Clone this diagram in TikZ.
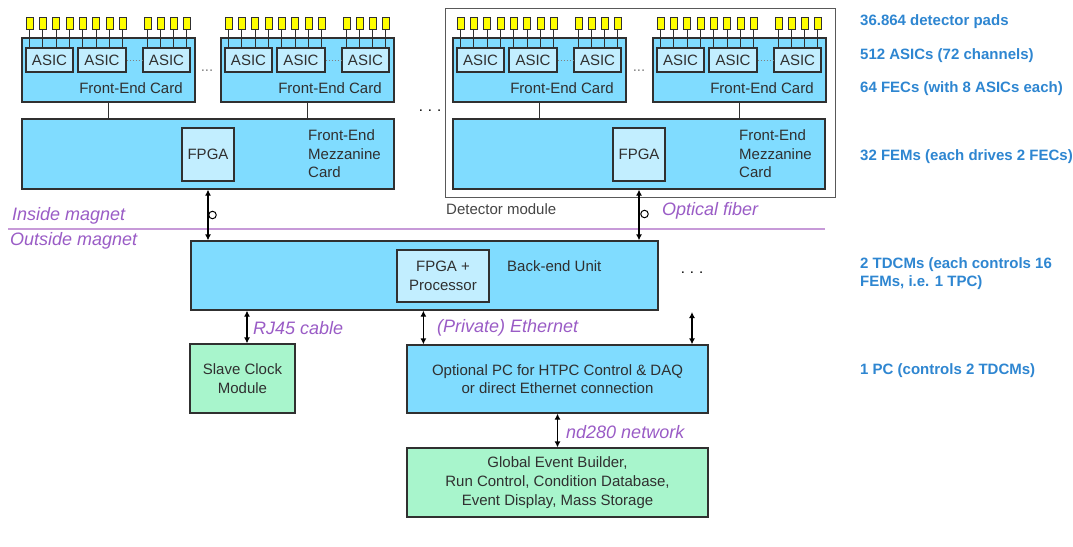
\documentclass[tikz,border=0pt]{standalone}
\usepackage{fontspec}
\setmainfont{Liberation Sans}
\usetikzlibrary{arrows.meta}

\definecolor{cardblue}{HTML}{80DCFF}
\definecolor{chipblue}{HTML}{C2EEFF}
\definecolor{mint}{HTML}{A8F5CC}
\definecolor{padyellow}{HTML}{FFFF00}
\definecolor{linkpurple}{HTML}{9A5CC6}
\definecolor{magnetline}{HTML}{C79AD8}
\definecolor{noteblue}{HTML}{2E86D1}
\definecolor{ink}{HTML}{303030}

\tikzset{
  base/.style={font=\fontsize{15}{18.5}\selectfont, text=ink},
  card/.style={draw=ink, line width=1.2pt, fill=cardblue, inner sep=0pt},
  chip/.style={draw=ink, line width=1.2pt, fill=chipblue, inner sep=0pt, base, align=center},
  greenbox/.style={card, fill=mint, base, align=center},
  bluebox/.style={card, base, align=center},
  pad/.style={draw=ink, line width=0.9pt, fill=padyellow, inner sep=0pt},
  wire/.style={draw=ink, line width=1pt},
  modframe/.style={draw=ink!80, line width=1pt, inner sep=0pt},
  biarrow/.style={draw=black, line width=1.2pt,
    {Latex[length=6pt,width=6pt]}-{Latex[length=6pt,width=6pt]}},
  ring/.style={circle, draw=black, line width=1pt, minimum size=7.5pt, inner sep=0pt},
  linklabel/.style={font=\fontsize{18}{20}\selectfont\itshape, text=linkpurple,
    inner sep=0pt, anchor=west},
  note/.style={font=\fontsize{15}{18}\selectfont\bfseries, text=noteblue,
    anchor=west, inner sep=0pt, align=left},
  lbl/.style={base, inner sep=0pt},
  ellipsis/.style={font=\fontsize{15}{18}\selectfont, inner sep=0pt},
}

% a rectangular node given by its corners: style, name, x1, y1, x2, y2, text
\newcommand\rectnode[7]{%
  \node[#1, minimum width={(#5)-(#3)}, minimum height={(#6)-(#4)}]
    (#2) at ({((#3)+(#5))/2},{((#4)+(#6))/2}) {#7};}

% One front-end card: 3 ASICs (with a gap of omitted ones) and 12 pads
\newcommand\fecunit[2]{%
  \begin{scope}[xshift=#2pt]
    \rectnode{card}{#1}{22}{38}{195}{102}{}
    \rectnode{chip}{#1a1}{26}{48}{73}{72}{ASIC}
    \rectnode{chip}{#1a2}{78}{48}{126}{72}{ASIC}
    \rectnode{chip}{#1a3}{143}{48}{190}{72}{ASIC}
    \draw[dotted, gray, line width=1pt] (#1a2.east) -- (#1a3.west);
    \node[lbl] (#1t) at (131,88) {Front-End Card};
    \foreach \px/\k [count=\i] in {26/1,39.3/1,52.7/1,66/1,79.3/2,92.7/2,106/2,119.3/2,144/3,157/3,170/3,183/3}{
      \rectnode{pad}{#1p\i}{\px}{17}{\px+7}{29}{}
      \draw[wire] (#1p\i.south) -- (#1p\i.south |- #1a\k.north);
    }
  \end{scope}}

% One front-end mezzanine card with its FPGA
\newcommand\femunit[2]{%
  \begin{scope}[xshift=#2pt]
    \rectnode{card}{#1}{22}{119}{394}{189}{}
    \rectnode{chip}{#1f}{182}{128}{234}{181}{FPGA}
    \node[lbl, anchor=west, align=left] (#1t) at (308,154) {Front-End\\Mezzanine\\Card};
  \end{scope}}

\begin{document}
\begin{tikzpicture}[x=1pt, y=-1pt]
  \useasboundingbox (0,0) rectangle (1073,546);
  \fill[white] (0,0) rectangle (1073,546);

  % detector module frame
  \rectnode{modframe}{module}{445}{8}{835}{197}{}
  \node[lbl, anchor=west, text=ink!90] (modlbl) at (446,209) {Detector module};

  % front-end cards
  \fecunit{fecA}{0}
  \fecunit{fecB}{199}
  \fecunit{fecC}{431}
  \fecunit{fecD}{631}
  \node[ellipsis, text=gray] (dotsAB) at (207,71) {...};
  \node[ellipsis, text=gray] (dotsCD) at (639,71) {...};

  % mezzanine cards
  \femunit{femA}{0}
  \femunit{femB}{431}
  \node[ellipsis] (dotsmid) at (430,111) {.\,\,.\,\,.};

  \foreach \f/\m in {fecA/femA, fecB/femA, fecC/femB, fecD/femB}
    \draw[wire] (\f.south) -- (\f.south |- \m.north);

  % magnet boundary
  \draw[magnetline, line width=1.5pt] (8,229) -- (825,229);
  \node[linklabel] (inmag) at (12,216) {Inside magnet};
  \node[linklabel] (outmag) at (10,241) {Outside magnet};

  % back-end unit
  \rectnode{card}{beu}{191}{241}{658}{310}{}
  \rectnode{chip}{proc}{397}{250}{489}{302}{FPGA +\\Processor}
  \node[lbl, anchor=west] (beut) at (507,266) {Back-end Unit};
  \node[ellipsis] (dotsbeu) at (692,273) {.\,\,.\,\,.};

  % optical links
  \draw[biarrow] (femA.south) -- (femA.south |- beu.north);
  \draw[biarrow] (femB.south) -- (femB.south |- beu.north);
  \node[ring] (ringA) at (212.5,215) {};
  \node[ring] (ringB) at (644.5,214) {};
  \node[linklabel] (fibre) at (662,211) {Optical fiber};

  % clock and PC
  \rectnode{greenbox}{slave}{190}{344}{295}{413}{Slave Clock\\Module}
  \rectnode{bluebox}{pc}{407}{345}{708}{413}{Optional PC for HTPC Control \& DAQ\\or direct Ethernet connection}
  \rectnode{greenbox, font=\fontsize{15}{19}\selectfont}{glob}{407}{448}{708}{517}%
    {Global Event Builder,\\Run Control, Condition Database,\\Event Display, Mass Storage}

  \draw[biarrow] ([xshift=4.5pt]slave.north) -- ([xshift=4.5pt]slave.north |- beu.south);
  \draw[biarrow] ([xshift=17pt]pc.north west) -- ([xshift=17pt]pc.north west |- beu.south);
  \coordinate (nextbeu) at (692,312);
  \draw[biarrow] (nextbeu) -- (nextbeu |- pc.north);
  \draw[biarrow] (pc.south) -- (glob.north);
  \node[linklabel] (rj) at (253,328) {RJ45 cable};
  \node[linklabel] (eth) at (437,328) {(Private) Ethernet};
  \node[linklabel] (nd) at (566,432) {nd280 network};

  % system counts
  \node[note] (n1) at (860,22) {36.864 detector pads};
  \node[note] (n2) at (860,56) {512 ASICs (72 channels)};
  \node[note] (n3) at (860,89) {64 FECs (with 8 ASICs each)};
  \node[note] (n4) at (860,157) {32 FEMs (each drives 2 FECs)};
  \node[note] (n5) at (860,274) {2 TDCMs (each controls 16\\FEMs, i.e. 1 TPC)};
  \node[note] (n6) at (860,371) {1 PC (controls 2 TDCMs)};
\end{tikzpicture}
\end{document}
